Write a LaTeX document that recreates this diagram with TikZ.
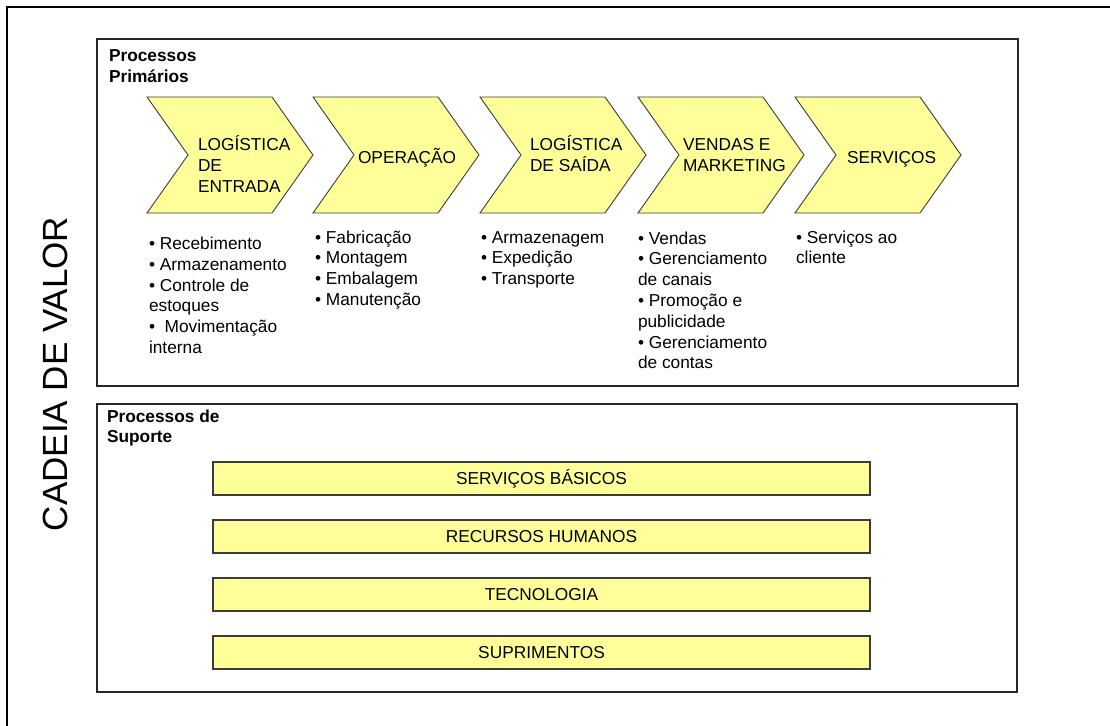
\documentclass[tikz,border=0pt]{standalone}
\usepackage{fontspec}
\setmainfont{Liberation Sans}
\definecolor{chevyellow}{RGB}{255,255,153}
\definecolor{edgegray}{RGB}{60,60,60}
% lines stacked top-down, baseline at the first line
\newcommand\colstack[1]{\begin{tabular}[t]{@{}l@{}}#1\end{tabular}}
\begin{document}
\begin{tikzpicture}[x=1pt,y=-1pt,
  every node/.style={inner sep=0pt, outer sep=0pt},
  txt/.style={font=\fontsize{17.3}{20.8}\selectfont, anchor=base west},
  chevtxt/.style={font=\fontsize{17.3}{21}\selectfont, anchor=base west},
  heading/.style={font=\bfseries\fontsize{17.3}{20.5}\selectfont, anchor=base west},
  chev/.style={draw=edgegray, fill=chevyellow, line width=0.9pt, line join=miter},
  bar/.style={draw=edgegray, fill=chevyellow, line width=1.3pt, minimum width=657pt,
    minimum height=33pt, font=\fontsize{17.3}{20.8}\selectfont},
  panel/.style={draw=black!85, line width=1.3pt},
  frame/.style={draw=black, line width=1.6pt}]
\useasboundingbox (0,0) rectangle (1110,725);

% outer frame (runs off the right and bottom edges)
\draw[frame] (7,740) -- (7,7) -- (1130,7);

% title
\node[rotate=90, font=\fontsize{35}{40}\selectfont] (title) at (55,374) {CADEIA DE VALOR};

% panels
\node[panel, minimum width=921pt, minimum height=347pt] (primary) at (557.5,212.5) {};
\node[panel, minimum width=920pt, minimum height=288pt] (support) at (557,548) {};
\node[heading] (hprim) at (109,62) {\colstack{Processos\\Primários}};
\node[heading] (hsup) at (107,422) {\colstack{Processos de\\Suporte}};

% primary activity chevrons
\foreach \L/\n in {147/1, 313/2, 480/3, 638/4, 795/5}{
  \draw[chev] (\L,97) -- ++(125,0) -- ++(41,58) -- ++(-41,58) -- ++(-125,0)
    -- ++(41,-58) -- cycle;
}
\node[chevtxt] (c1) at (198,150) {\colstack{LOGÍSTICA\\DE\\ENTRADA}};
\node[chevtxt] (c2) at (358,163) {OPERAÇÃO};
\node[chevtxt] (c3) at (530,150) {\colstack{LOGÍSTICA\\DE SAÍDA}};
\node[chevtxt] (c4) at (683,150) {\colstack{VENDAS E\\MARKETING}};
\node[chevtxt] (c5) at (847,163) {SERVIÇOS};

% activity lists
\node[txt] (l1) at (149,249.5) {\colstack{• Recebimento\\• Armazenamento\\• Controle de\\estoques\\•\ \ Movimentação\\interna}};
\node[txt] (l2) at (315,243) {\colstack{• Fabricação\\• Montagem\\• Embalagem\\• Manutenção}};
\node[txt] (l3) at (481,243) {\colstack{• Armazenagem\\• Expedição\\• Transporte}};
\node[txt] (l4) at (638,244) {\colstack{• Vendas\\• Gerenciamento\\de canais\\• Promoção e\\publicidade\\• Gerenciamento\\de contas}};
\node[txt] (l5) at (796,243) {\colstack{• Serviços ao\\cliente}};

% support activities
\node[bar] (b1) at (541.5,478.5) {SERVIÇOS BÁSICOS};
\node[bar] (b2) at (541.5,536.5) {RECURSOS HUMANOS};
\node[bar] (b3) at (541.5,594.5) {TECNOLOGIA};
\node[bar] (b4) at (541.5,652.5) {SUPRIMENTOS};
\end{tikzpicture}
\end{document}
